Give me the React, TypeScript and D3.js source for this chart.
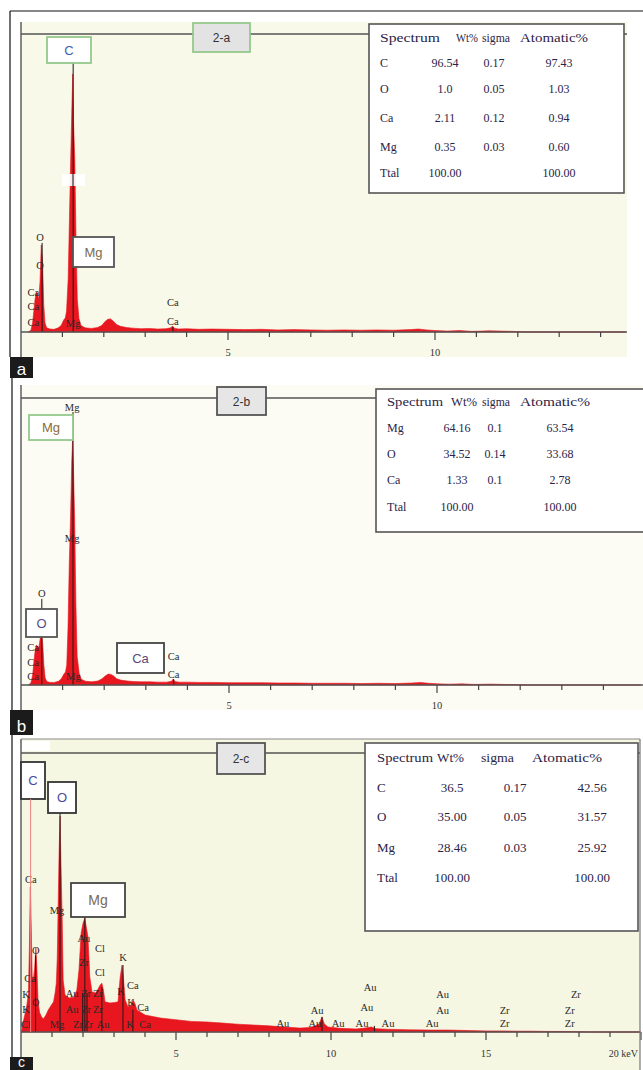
import * as d3 from "d3";

// ---------- data (keV, counts on a 0..1000 scale per panel) ----------
const spectrumA: [number, number][] = [
  [0.18, 0], [0.24, 6], [0.28, 30], [0.31, 70], [0.34, 110], [0.37, 134], [0.4, 128], [0.43, 110],
  [0.46, 170], [0.49, 292], [0.52, 240], [0.55, 90], [0.58, 30], [0.62, 14], [0.7, 10], [0.8, 9],
  [0.9, 14], [0.97, 22], [1.03, 40], [1.07, 47], [1.1, 70], [1.14, 180], [1.17, 380], [1.2, 577],
  [1.23, 760], [1.25, 866], [1.27, 700], [1.3, 577], [1.33, 300], [1.36, 110], [1.4, 45], [1.45, 22],
  [1.55, 14], [1.7, 12], [1.85, 15], [1.95, 22], [2.03, 35], [2.1, 43], [2.16, 44], [2.22, 38],
  [2.3, 26], [2.4, 19], [2.55, 15], [2.7, 13], [2.9, 11], [3.1, 12], [3.3, 10], [3.5, 11],
  [3.62, 14], [3.66, 20], [3.7, 13], [3.8, 10], [4.0, 11], [4.3, 9], [4.6, 10], [5.0, 9],
  [5.4, 8], [5.8, 9], [6.2, 7], [6.6, 8], [7.0, 7], [7.4, 6], [7.8, 7], [8.2, 6], [8.6, 7],
  [9.0, 6], [9.4, 8], [9.6, 10], [9.8, 7], [10.0, 5], [10.3, 3], [10.6, 5], [10.9, 2], [11.3, 4],
  [11.6, 3], [11.9, 2], [12.2, 0], [14.6, 0],
];

const spectrumB: [number, number][] = [
  [0.18, 0], [0.24, 8], [0.28, 35], [0.31, 80], [0.34, 120], [0.37, 139], [0.4, 135], [0.43, 130],
  [0.46, 160], [0.49, 185], [0.52, 150], [0.55, 70], [0.58, 25], [0.62, 12], [0.7, 9], [0.8, 9],
  [0.9, 13], [0.97, 22], [1.03, 38], [1.07, 45], [1.1, 70], [1.13, 200], [1.16, 420], [1.19, 575],
  [1.22, 780], [1.24, 850], [1.26, 760], [1.29, 575], [1.32, 280], [1.35, 100], [1.4, 40], [1.45, 20],
  [1.55, 13], [1.7, 11], [1.85, 14], [1.95, 22], [2.03, 32], [2.1, 38], [2.16, 37], [2.22, 32],
  [2.3, 22], [2.4, 17], [2.55, 14], [2.7, 12], [2.9, 11], [3.1, 11], [3.3, 10], [3.5, 10],
  [3.62, 13], [3.66, 21], [3.7, 12], [3.8, 10], [4.0, 10], [4.3, 9], [4.6, 9], [5.0, 8],
  [5.4, 8], [5.8, 8], [6.2, 7], [6.6, 7], [7.0, 6], [7.4, 6], [7.8, 6], [8.2, 5], [8.6, 6],
  [9.0, 5], [9.4, 7], [9.6, 9], [9.8, 6], [10.0, 4], [10.3, 3], [10.6, 4], [10.9, 2], [11.3, 3],
  [11.6, 2], [11.9, 1], [12.2, 0], [14.9, 0],
];

const spectrumC: [number, number][] = [
  [0.02, 0], [0.06, 30], [0.12, 60], [0.18, 90], [0.24, 140], [0.27, 300], [0.3, 520], [0.33, 380],
  [0.36, 200], [0.4, 190], [0.44, 230], [0.48, 301], [0.51, 240], [0.55, 110], [0.6, 70], [0.66, 55],
  [0.72, 47], [0.8, 60], [0.88, 79], [0.97, 95], [1.05, 108], [1.1, 140], [1.14, 176], [1.17, 269],
  [1.2, 462], [1.23, 650], [1.26, 774], [1.29, 600], [1.33, 401], [1.36, 186], [1.42, 133], [1.55, 122],
  [1.7, 125], [1.8, 150], [1.87, 222], [1.94, 355], [2.0, 390], [2.06, 409], [2.1, 380], [2.16, 341],
  [2.22, 197], [2.29, 143], [2.42, 140], [2.55, 168], [2.61, 175], [2.66, 150], [2.71, 108], [2.87, 104],
  [3.03, 106], [3.13, 108], [3.2, 197], [3.26, 240], [3.3, 200], [3.36, 115], [3.45, 90], [3.55, 97],
  [3.62, 115], [3.68, 100], [3.74, 79], [4.0, 61], [4.5, 50], [5.0, 44], [5.5, 38], [6.0, 36],
  [6.5, 32], [7.0, 28], [7.5, 25], [8.0, 22], [8.5, 18], [9.0, 14], [9.3, 16], [9.5, 22], [9.62, 30],
  [9.71, 54], [9.78, 30], [9.9, 18], [10.3, 13], [10.8, 11], [11.1, 14], [11.3, 18], [11.45, 12],
  [11.8, 10], [12.5, 8], [13.2, 7], [13.8, 7], [14.5, 5], [15.0, 4], [15.5, 4], [16.0, 3], [16.5, 3],
  [17.0, 2], [17.5, 2], [18.0, 1], [18.3, 0], [20, 0],
];

// peak identification labels: text, keV, count
type Label = [string, number, number];
const labelsA: Label[] = [
  ["O", 0.46, 305], ["O", 0.46, 211], ["Ca", 0.3, 121], ["Ca", 0.3, 74], ["Ca", 0.3, 20],
  ["Mg", 1.26, 17], ["Ca", 3.67, 87], ["Ca", 3.67, 23],
];
const labelsB: Label[] = [
  ["Mg", 1.23, 955], ["Mg", 1.23, 498], ["O", 0.5, 307], ["Ca", 0.29, 118], ["Ca", 0.29, 66],
  ["Ca", 0.29, 17], ["Mg", 1.26, 17], ["Ca", 3.67, 87], ["Ca", 3.67, 24],
];
const labelsC: Label[] = [
  ["Ca", 0.32, 534], ["Mg", 1.16, 423], ["O", 0.48, 280], ["Ca", 0.29, 179], ["K", 0.16, 122],
  ["O", 0.48, 93], ["K", 0.16, 68], ["Cl", 0.16, 14], ["Au", 2.03, 323], ["Cl", 2.55, 287],
  ["Zr", 2.03, 237], ["Cl", 2.55, 201], ["Au", 1.65, 125], ["Zr", 2.1, 125], ["Zr", 2.48, 125],
  ["Au", 1.65, 68], ["Zr", 2.1, 68], ["Zr", 2.48, 68], ["Mg", 1.16, 14], ["Zr", 1.84, 14],
  ["Zr", 2.16, 14], ["Au", 2.65, 14], ["K", 3.29, 254], ["Ca", 3.61, 154], ["K", 3.23, 133],
  ["K", 3.55, 93], ["Ca", 3.94, 75], ["K", 3.52, 14], ["Ca", 4.0, 14], ["Au", 8.45, 18],
  ["Au", 9.55, 65], ["Au", 9.48, 18], ["Au", 10.23, 18], ["Au", 11.26, 147], ["Au", 11.16, 75],
  ["Au", 11.0, 18], ["Au", 11.84, 18], ["Au", 13.6, 122], ["Au", 13.6, 65], ["Au", 13.26, 18],
  ["Zr", 15.6, 65], ["Zr", 15.6, 18], ["Zr", 17.9, 122], ["Zr", 17.7, 65], ["Zr", 17.7, 18],
];

// vertical marker lines: keV, top count
const markersA: [number, number][] = [[1.26, 903], [0.51, 299], [3.67, 17]];
const markersB: [number, number][] = [[1.25, 951], [0.5, 300], [3.67, 20]];
const markersC: [number, number][] = [
  [1.26, 785], [2.06, 412], [0.47, 275], [1.99, 140], [2.13, 140], [2.61, 160], [3.29, 240],
  [3.61, 80], [9.71, 54], [11.4, 22],
];
const carbonLineC: [number, number] = [0.31, 835];

const tableHeader = ["Spectrum", "Wt%", "sigma", "Atomatic%"];
const elementsA = ["C", "O", "Ca", "Mg", "Ttal"];
const wtA = ["96.54", "1.0", "2.11", "0.35", "100.00"];
const sigmaA = ["0.17", "0.05", "0.12", "0.03", ""];
const atomicA = ["97.43", "1.03", "0.94", "0.60", "100.00"];

const elementsB = ["Mg", "O", "Ca", "Ttal"];
const wtB = ["64.16", "34.52", "1.33", "100.00"];
const sigmaB = ["0.1", "0.14", "0.1", ""];
const atomicB = ["63.54", "33.68", "2.78", "100.00"];

const elementsC = ["C", "O", "Mg", "Ttal"];
const wtC = ["36.5", "35.00", "28.46", "100.00"];
const sigmaC = ["0.17", "0.05", "0.03", ""];
const atomicC = ["42.56", "31.57", "25.92", "100.00"];

const RED = "#e8161e";
const SERIF = "'Liberation Serif', 'DejaVu Serif', serif";
const SANS = "'Liberation Sans', Arial, sans-serif";
const TABLE_INK = "#2a2447";

type Box = { x: number; y: number; w: number; h: number; text: string; stroke: string; color: string; fill?: string; size?: number };

type PanelCfg = {
  spectrum: [number, number][];
  labels: Label[];
  markers: [number, number][];
  kevMax: number; x0: number; pxPerKev: number; base: number; top: number; axisEnd: number;
  bg: { x: number; y: number; w: number; h: number; fill: string };
  tickLabels: number[]; tickLabelY: number;
  tag: Box;
  boxes: Box[];
  table: { x: number; y: number; w: number; h: number; rows: number[]; head: number[]; headW: number[]; cols: number[]; size: number;
    el: string[]; wt: string[]; sg: string[]; at: string[] };
};

function LabelBox({ b }: { b: Box }) {
  return (
    <g>
      <rect x={b.x} y={b.y} width={b.w} height={b.h} fill={b.fill ?? "#fff"} stroke={b.stroke} strokeWidth={1.8} />
      <text x={b.x + b.w / 2} y={b.y + b.h / 2 + 4.5} textAnchor="middle" fontFamily={SANS} fontSize={b.size ?? 13} fill={b.color}>
        {b.text}
      </text>
    </g>
  );
}

function Panel({ cfg }: { cfg: PanelCfg }) {
  const x = d3.scaleLinear().domain([0, cfg.kevMax]).range([cfg.x0, cfg.x0 + cfg.kevMax * cfg.pxPerKev]);
  const y = d3.scaleLinear().domain([0, 1000]).range([cfg.base, cfg.top]);
  const area = d3.area<[number, number]>().x((d) => x(d[0])).y0(y(0)).y1((d) => y(d[1]));
  const ticks = d3.range(1, Math.floor(cfg.kevMax) + 1);
  const t = cfg.table;
  return (
    <g>
      <rect x={cfg.bg.x} y={cfg.bg.y} width={cfg.bg.w} height={cfg.bg.h} fill={cfg.bg.fill} />
      <line x1={cfg.x0} x2={cfg.axisEnd} y1={cfg.top} y2={cfg.top} stroke="#555" strokeWidth={1.4} />
      <line x1={cfg.x0} x2={cfg.x0} y1={cfg.bg.y} y2={cfg.bg.y + cfg.bg.h} stroke="#555" strokeWidth={1.4} />
      <path d={area(cfg.spectrum) ?? ""} fill={RED} stroke={RED} strokeWidth={0.6} />
      {cfg.markers.map(([e, c], i) => (
        <line key={i} x1={x(e)} x2={x(e)} y1={y(c)} y2={y(0)} stroke="#1a1a1a" strokeWidth={1} />
      ))}
      <line x1={cfg.x0} x2={cfg.axisEnd} y1={cfg.base} y2={cfg.base} stroke="#555" strokeWidth={1.4} />
      {ticks.map((k) => (
        <line key={k} x1={x(k)} x2={x(k)} y1={cfg.base} y2={cfg.base + (k % 5 === 0 ? 8 : 5)} stroke="#444" strokeWidth={1.2} />
      ))}
      {cfg.tickLabels.map((k) => (
        <text key={k} x={x(k)} y={cfg.tickLabelY} textAnchor="middle" fontFamily={SERIF} fontSize={10.5} fill="#333">
          {k}
        </text>
      ))}
      {cfg.labels.map(([s, e, c], i) => (
        <text key={i} x={x(e)} y={y(c)} textAnchor="middle" fontFamily={SERIF} fontSize={10.5} fill="#2a2a2a">
          {s}
        </text>
      ))}
      <LabelBox b={cfg.tag} />
      {cfg.boxes.map((b, i) => <LabelBox key={i} b={b} />)}
      <rect x={t.x} y={t.y} width={t.w} height={t.h} fill="#fff" stroke="#555" strokeWidth={1.6} />
      <g fontFamily={SERIF} fontSize={t.size} fill={TABLE_INK}>
        {tableHeader.map((h, i) => (
          <text key={h} x={t.head[i]} y={t.rows[0] + 4} textLength={t.headW[i]} lengthAdjust="spacingAndGlyphs">{h}</text>
        ))}
        {t.el.map((el, r) => (
          <g key={el}>
            <text x={t.head[0]} y={t.rows[r + 1] + 4}>{el}</text>
            <text x={t.cols[0]} y={t.rows[r + 1] + 4} textAnchor="middle">{t.wt[r]}</text>
            <text x={t.cols[1]} y={t.rows[r + 1] + 4} textAnchor="middle">{t.sg[r]}</text>
            <text x={t.cols[2]} y={t.rows[r + 1] + 4} textAnchor="middle">{t.at[r]}</text>
          </g>
        ))}
      </g>
    </g>
  );
}

const GREEN = "#94c98c";

const panelA: PanelCfg = {
  spectrum: spectrumA, labels: labelsA, markers: markersA,
  kevMax: 14.6, x0: 21, pxPerKev: 41.4, base: 332, top: 34, axisEnd: 627,
  bg: { x: 21, y: 22, w: 606, h: 335, fill: "#f8f9e9" },
  tickLabels: [5, 10], tickLabelY: 356,
  tag: { x: 193, y: 23, w: 57, h: 29, text: "2-a", stroke: GREEN, color: "#333", fill: "#e3e3e3", size: 12 },
  boxes: [
    { x: 47, y: 37, w: 44, h: 26, text: "C", stroke: GREEN, color: "#3a5fb0" },
    { x: 73, y: 237, w: 41, h: 30, text: "Mg", stroke: "#555", color: "#7b6a4f" },
  ],
  table: {
    x: 369, y: 24, w: 255, h: 169, rows: [38, 63, 89, 118, 147, 173], head: [380, 456, 482, 520],
    headW: [60, 22, 28, 68], cols: [445, 494, 559], size: 12, el: elementsA, wt: wtA, sg: sigmaA, at: atomicA,
  },
};

const panelB: PanelCfg = {
  spectrum: spectrumB, labels: labelsB, markers: markersB,
  kevMax: 14.9, x0: 21, pxPerKev: 41.6, base: 685, top: 398, axisEnd: 643,
  bg: { x: 21, y: 385, w: 622, h: 325, fill: "#fcfcf4" },
  tickLabels: [5, 10], tickLabelY: 709,
  tag: { x: 217, y: 387, w: 49, h: 28, text: "2-b", stroke: "#555", color: "#333", fill: "#e6e6e6", size: 12 },
  boxes: [
    { x: 29, y: 415, w: 44, h: 25, text: "Mg", stroke: GREEN, color: "#8a6d3b" },
    { x: 26, y: 609, w: 31, h: 28, text: "O", stroke: "#555", color: "#5a4a8a" },
    { x: 117, y: 643, w: 47, h: 30, text: "Ca", stroke: "#444", color: "#5a4a7a" },
  ],
  table: {
    x: 376, y: 389, w: 290, h: 143, rows: [402, 428, 454, 480, 507], head: [387, 451, 482, 520],
    headW: [56, 26, 28, 70], cols: [457, 495, 560], size: 12, el: elementsB, wt: wtB, sg: sigmaB, at: atomicB,
  },
};

const panelC: PanelCfg = {
  spectrum: spectrumC, labels: labelsC, markers: markersC,
  kevMax: 20, x0: 21, pxPerKev: 31, base: 1032, top: 753, axisEnd: 640,
  bg: { x: 21, y: 739, w: 619, h: 331, fill: "#f6f7e3" },
  tickLabels: [5, 10, 15], tickLabelY: 1057,
  tag: { x: 217, y: 743, w: 48, h: 31, text: "2-c", stroke: "#555", color: "#333", fill: "#e6e6e6", size: 12 },
  boxes: [
    { x: 21, y: 762, w: 24, h: 37, text: "C", stroke: "#333", color: "#4a4aa0" },
    { x: 48, y: 782, w: 28, h: 31, text: "O", stroke: "#333", color: "#4a4aa0" },
    { x: 71, y: 883, w: 54, h: 34, text: "Mg", stroke: "#444", color: "#7b6a4f", size: 14 },
  ],
  table: {
    x: 365, y: 743, w: 273, h: 188, rows: [758, 788, 817, 848, 878], head: [377, 437, 481, 532],
    headW: [56, 27, 33, 70], cols: [452, 515, 592], size: 13, el: elementsC, wt: wtC, sg: sigmaC, at: atomicC,
  },
};

function Tag({ x, y, h, s, size }: { x: number; y: number; h: number; s: string; size: number }) {
  return (
    <g>
      <rect x={x} y={y} width={23} height={h} fill="#1b1b1b" />
      <text x={x + 11.5} y={y + h - 3} textAnchor="middle" fontFamily={SANS} fontSize={size} fill="#fff">{s}</text>
    </g>
  );
}

export default function App() {
  const xC = d3.scaleLinear().domain([0, 20]).range([21, 641]);
  const yC = d3.scaleLinear().domain([0, 1000]).range([1032, 753]);
  return (
    <svg width={643} height={1070} style={{ position: "absolute", left: 0, top: 0, background: "#fff" }}>
      {/* panel a frame */}
      <line x1={10} x2={643} y1={11} y2={11} stroke="#111" strokeWidth={1.2} />
      <line x1={10} x2={10} y1={11} y2={357} stroke="#111" strokeWidth={1.2} />
      <Panel cfg={panelA} />
      <rect x={62} y={174} width={23} height={12} fill="#fff" opacity={0.9} />
      <line x1={73} x2={73} y1={174} y2={186} stroke="#111" strokeWidth={1} />
      <Tag x={10} y={357} h={21} s="a" size={17} />

      {/* panel b */}
      <line x1={12} x2={12} y1={378} y2={710} stroke="#111" strokeWidth={1.2} />
      <Panel cfg={panelB} />
      <Tag x={10} y={710} h={25} s="b" size={17} />

      {/* panel c */}
      <line x1={12} x2={12} y1={735} y2={1057} stroke="#111" strokeWidth={1.2} />
      <Panel cfg={panelC} />
      <line x1={21} x2={640} y1={739} y2={739} stroke="#888" strokeWidth={1.2} />
      <line x1={640} x2={640} y1={739} y2={1070} stroke="#777" strokeWidth={1.2} />
      <rect x={22} y={741} width={28} height={10} fill="#fff" />
      <line x1={xC(carbonLineC[0])} x2={xC(carbonLineC[0])} y1={yC(carbonLineC[1])} y2={yC(0)} stroke="#f08080" strokeWidth={1} />
      <text x={638} y={1057} textAnchor="end" fontFamily={SERIF} fontSize={10} fill="#333">20 keV</text>
      <Tag x={10} y={1057} h={13} s="c" size={14} />
    </svg>
  );
}
